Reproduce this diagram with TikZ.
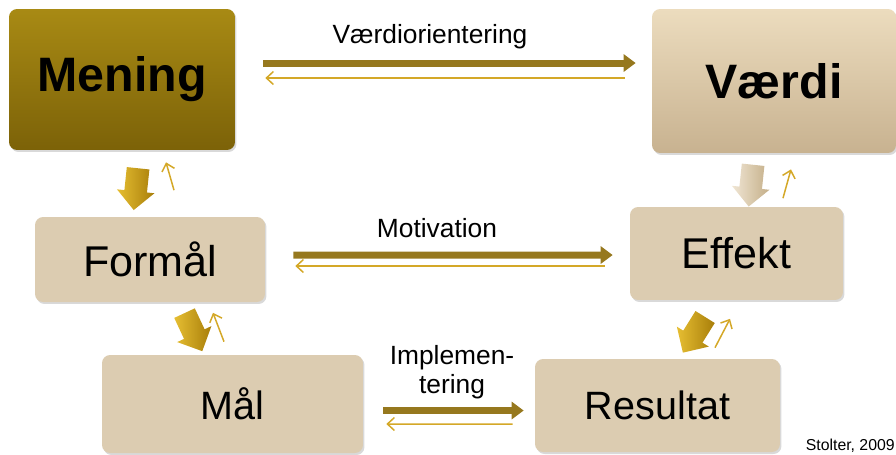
\documentclass[tikz,border=0pt]{standalone}
\usepackage{fontspec}
\setmainfont{Liberation Sans}
\usetikzlibrary{arrows.meta,shapes.arrows,calc,shadows}

\definecolor{guldtop}{RGB}{168,138,20}
\definecolor{guldbund}{RGB}{124,98,8}
\definecolor{sandtop}{RGB}{236,220,190}
\definecolor{sandbund}{RGB}{200,178,144}
\definecolor{sand}{RGB}{220,204,177}
\definecolor{pilmoerk}{RGB}{150,120,30}
\definecolor{pillys}{RGB}{212,168,40}
\definecolor{blokguld}{RGB}{230,190,50}
\definecolor{blokguldmoerk}{RGB}{168,126,10}
\definecolor{bloksand}{RGB}{240,230,212}
\definecolor{bloksandmoerk}{RGB}{196,174,136}

\begin{document}
\begin{tikzpicture}[x=0.02cm, y=-0.02cm,
    boks/.style={rounded corners=0.16cm,
        drop shadow={shadow xshift=0.03cm, shadow yshift=-0.04cm, opacity=0.3}},
    hovedboks/.style={boks, font=\fontsize{27.5}{32}\selectfont\bfseries},
    trinboks/.style={boks, fill=sand},
    blokpil/.style={single arrow, minimum height=0.84cm, minimum width=0.74cm,
        inner sep=0.22cm, single arrow head extend=0.15cm},
    tykpil/.style={draw=pilmoerk, line width=0.14cm,
        -{Triangle[length=0.24cm, width=0.34cm]}},
    tyndpil/.style={draw=pillys, line width=0.03cm,
        -{Straight Barb[length=0.14cm, width=0.26cm]}},
    etiket/.style={font=\fontsize{15}{16.5}\selectfont}]

\useasboundingbox (0,0) rectangle (896,454);
\clip (0,0) rectangle (896,454);

\node (mening) at (122,79.5) [hovedboks, top color=guldtop, bottom color=guldbund,
    minimum width=4.52cm, minimum height=2.82cm] {Mening};
\node (vaerdi) at (774,81) [hovedboks, top color=sandtop, bottom color=sandbund,
    minimum width=4.88cm, minimum height=2.88cm] {Værdi};
\node (formaal) at (150,259.5) [trinboks, font=\fontsize{24.5}{28}\selectfont,
    minimum width=4.6cm, minimum height=1.7cm] {Formål};
\node (effekt) at (736.5,253.5) [trinboks, font=\fontsize{24.5}{28}\selectfont,
    minimum width=4.26cm, minimum height=1.86cm] {Effekt};
\node (maal) at (232.5,404) [trinboks, font=\fontsize{22.5}{26}\selectfont,
    minimum width=5.22cm, minimum height=1.96cm] {Mål};
\node (resultat) at (657.5,405.5) [trinboks, font=\fontsize{22.5}{26}\selectfont,
    minimum width=4.9cm, minimum height=1.86cm] {Resultat};

% blokpile nedad
\node (ned1) at (136.5,183.5) [blokpil, left color=blokguld, right color=blokguldmoerk, rotate=-96] {};
\node (ned2) at (191,327) [blokpil, left color=blokguld, right color=blokguldmoerk, rotate=-65] {};
\node (ned3) at (751.5,180) [blokpil, left color=bloksand, right color=bloksandmoerk, rotate=-96] {};
\node (ned4) at (697,330) [blokpil, left color=blokguld, right color=blokguldmoerk, rotate=-122] {};

% tynde pile opad
\path
    ($(formaal.north)+(24,-26.5)$) edge[tyndpil] ($(mening.south)+(44,12)$)
    ($(maal.north)+(-8.5,-13)$) edge[tyndpil] ($(formaal.south)+(63,10.5)$)
    ($(effekt.north)+(46.5,-8.5)$) edge[tyndpil] ($(vaerdi.south)+(17,16)$)
    ($(resultat.north)+(57.5,-11)$) edge[tyndpil] ($(effekt.south)+(-6.5,18.5)$);

% vandrette pile
\path
    ($(mening.east)+(28,-16.5)$) edge[tykpil] ($(vaerdi.west)+(-16,-18)$)
    ($(formaal.east)+(28,-4.5)$) edge[tykpil] ($(effekt.west)+(-17,1.5)$)
    ($(maal.east)+(20,6.5)$) edge[tykpil] ($(resultat.west)+(-11,5)$);
\path
    ($(vaerdi.west)+(-27,-3)$) edge[tyndpil] ($(mening.east)+(30,-1.5)$)
    ($(effekt.west)+(-25,12.5)$) edge[tyndpil] ($(formaal.east)+(30,6.5)$)
    ($(resultat.west)+(-22,18.5)$) edge[tyndpil] ($(maal.east)+(23,20)$);

\node (vaerdiorientering) at (430,37) [etiket] {Værdiorientering};
\node (motivation) at (437,228) [etiket] {Motivation};
\node (implementering) at (452,372) [etiket, align=center] {Implemen-\\tering};
\node (kilde) at (895,453) [anchor=south east, inner sep=0pt, font=\fontsize{9}{11}\selectfont] {Stolter, 2009};
\end{tikzpicture}
\end{document}
